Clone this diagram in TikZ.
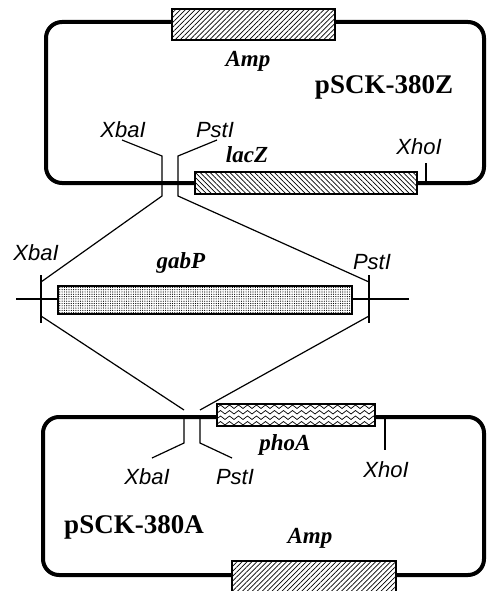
\documentclass[tikz,border=0pt]{standalone}
\usepackage{fontspec}
\setmainfont{Liberation Serif}
\newfontfamily\hv{Liberation Sans}
\usetikzlibrary{patterns,patterns.meta}
\pgfdeclarepattern{
  name=wavy,
  type=uncolored,
  bottom left={\pgfpoint{-0.1pt}{-0.1pt}},
  top right={\pgfpoint{9.1pt}{5.6pt}},
  tile size={\pgfpoint{9pt}{5.5pt}},
  code={
    \pgfsetlinewidth{0.7pt}
    \pgfpathmoveto{\pgfpoint{0pt}{1pt}}
    \pgfpathcurveto{\pgfpoint{1.7pt}{1pt}}{\pgfpoint{2.8pt}{4.5pt}}{\pgfpoint{4.5pt}{4.5pt}}
    \pgfpathcurveto{\pgfpoint{6.2pt}{4.5pt}}{\pgfpoint{7.3pt}{1pt}}{\pgfpoint{9pt}{1pt}}
    \pgfusepath{stroke}
  }
}
\begin{document}
\begin{tikzpicture}[x=1pt,y=-1pt,
  plasmid/.style={line width=4pt, rounded corners=16pt},
  thin/.style={line width=1.2pt},
  genebox/.style={draw, line width=1.3pt, preaction={fill=white}},
  ampfill/.style={genebox, pattern={Lines[angle=45,distance=3.5pt,line width=0.7pt]}},
  lacfill/.style={genebox, pattern={Lines[angle=-45,distance=3.5pt,line width=0.7pt]}},
  gabfill/.style={genebox, pattern={Dots[distance=2.3pt,radius=0.6pt]}},
  phofill/.style={genebox, pattern=wavy},
  site/.style={font=\hv\itshape\fontsize{22}{22}\selectfont, inner sep=0pt},
  gene/.style={font=\bfseries\itshape\fontsize{23}{23}\selectfont, inner sep=0pt},
  pname/.style={font=\bfseries\fontsize{27}{27}\selectfont, inner sep=0pt}]
\useasboundingbox (0,0) rectangle (487,591);

% ---------- top plasmid pSCK-380Z ----------
\draw[plasmid] (46,22) rectangle (484,183);
\draw[ampfill] (172,9) rectangle (335,40);
\draw[lacfill] (195,172) rectangle (417,194);
\node[gene] (amp1) at (248,61) {Amp};
\node[pname] (p1) at (384,87) {pSCK-380Z};
\node[site] (x1) at (123,130) {XbaI};
\node[site] (s1) at (215,130) {PstI};
\node[gene] (lac) at (247,155) {lacZ};
\node[site] (h1) at (419,147) {XhoI};

\coordinate (x1a) at (122,140);
\coordinate (x1b) at (162,156);
\coordinate (x1c) at (162,196);
\coordinate (s1a) at (217,140);
\coordinate (s1b) at (178,156);
\coordinate (s1c) at (178,196);
\coordinate (h1a) at (426,163);
\coordinate (h1b) at (426,183);

% ---------- insert gabP ----------
\coordinate (lineL) at (16,299);
\coordinate (lineR) at (409,299);
\coordinate (tLt) at (41,275);
\coordinate (tLb) at (41,323);
\coordinate (tRt) at (369,275);
\coordinate (tRb) at (369,323);
\coordinate (dLt) at (41,282);
\coordinate (dRt) at (369,282);
\coordinate (dLb) at (41,316);
\coordinate (dRb) at (369,316);

\draw[thin] (x1a) -- (x1b) -- (x1c) -- (dLt);
\draw[thin] (s1a) -- (s1b) -- (s1c) -- (dRt);
\draw[thin] (h1a) -- (h1b);

\draw[thin] (lineL) -- (lineR);
\draw[thin] (tLt) -- (tLb);
\draw[thin] (tRt) -- (tRb);
\draw[gabfill] (58,286) rectangle (352,314);
\node[site] (x2) at (36,253) {XbaI};
\node[gene] (gab) at (181,263) {gabP};
\node[site] (s2) at (372,262) {PstI};

% ---------- bottom plasmid pSCK-380A ----------
\coordinate (x3a) at (184,410);
\coordinate (s3a) at (200,410);
\draw[thin] (dLb) -- (x3a);
\draw[thin] (dRb) -- (s3a);

\draw[plasmid] (43,417) rectangle (484,575);
\draw[phofill] (217,404) rectangle (375,426);
\draw[ampfill] (232,561) rectangle (396,600);

\coordinate (x3b) at (184,417);
\coordinate (x3c) at (184,443);
\coordinate (x3d) at (152,458);
\coordinate (s3b) at (200,417);
\coordinate (s3c) at (200,443);
\coordinate (s3d) at (232,458);
\coordinate (h3a) at (385,417);
\coordinate (h3b) at (385,450);
\draw[thin] (x3b) -- (x3c) -- (x3d);
\draw[thin] (s3b) -- (s3c) -- (s3d);
\draw[thin] (h3a) -- (h3b);

\node[site] (x3) at (147,477) {XbaI};
\node[site] (s3) at (235,477) {PstI};
\node[gene] (pho) at (285,445) {phoA};
\node[site] (h3) at (386,470) {XhoI};
\node[pname] (p2) at (134,527) {pSCK-380A};
\node[gene] (amp2) at (310,538) {Amp};
\end{tikzpicture}
\end{document}
